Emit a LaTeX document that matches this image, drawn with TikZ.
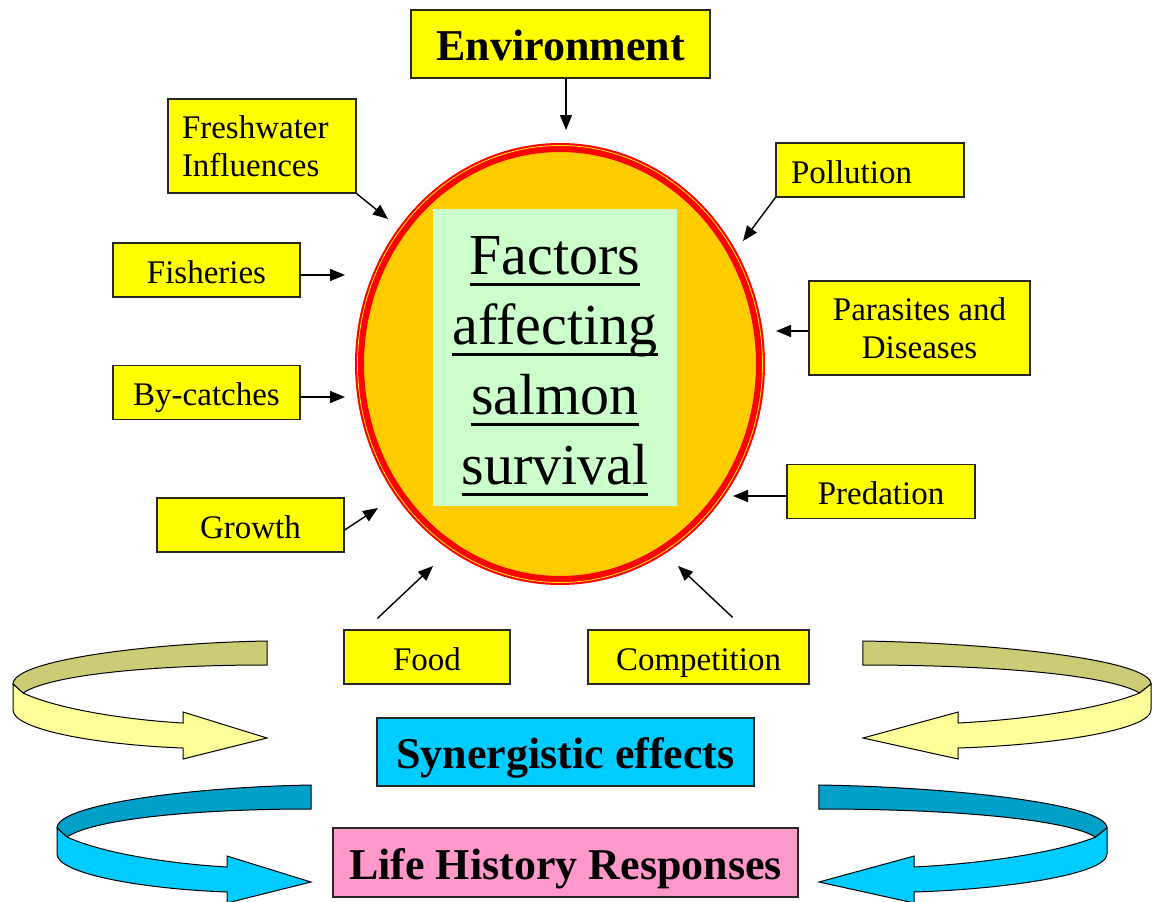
\documentclass[tikz,border=0pt]{standalone}
\usepackage{fontspec}
\setmainfont{Liberation Serif}
\usepackage{tikz}
\usetikzlibrary{arrows.meta,shapes.geometric}

\definecolor{boxyellow}{HTML}{FFFF00}
\definecolor{discfill}{HTML}{FFCC00}
\definecolor{titlegreen}{HTML}{CCFFCC}
\definecolor{synblue}{HTML}{00CCFF}
\definecolor{darkcyan}{HTML}{00A0C8}
\definecolor{lifepink}{HTML}{FF99CC}
\definecolor{khaki}{HTML}{CCCC77}
\definecolor{paleyellow}{HTML}{FFFF99}

% underline at a fixed depth
\newcommand{\ulword}[1]{\setbox0\hbox{#1}\rlap{\rule[-0.19em]{\wd0}{0.05em}}\box0}

% ribbon arrow, #1 back colour, #2 front colour
\newcommand{\swirl}[2]{%
\filldraw[fill=#1, line width=1pt] (254,0) -- (254,24) .. controls (137,24) and (37,34) .. (10,52) -- (0,43) .. controls (0,19) and (137,2) .. (254,0) -- cycle;
\filldraw[fill=#2, line width=1pt] (0,43) -- (10,52) .. controls (47,69) and (117,79) .. (170,82) -- (170,71) -- (254,97) -- (170,118) -- (170,107) .. controls (87,104) and (0,89) .. (0,69) -- cycle;
}

\tikzset{
  factor/.style={draw=black!85, fill=boxyellow, line width=1.2pt, inner sep=0pt, font=\fontsize{33}{38}\selectfont},
  oneline/.style={text height=28pt, text depth=2pt},
  banner/.style={draw=black!85, line width=1.2pt, inner sep=0pt, minimum height=68pt, text height=36pt, text depth=3pt, font=\bfseries\fontsize{44}{50}\selectfont},
  feed/.style={-{Triangle[length=15pt,width=12pt]}, line width=1.4pt},
}

\begin{document}
\begin{tikzpicture}[x=1pt, y=-1pt]
\useasboundingbox (0,0) rectangle (1152,902);

%\tikzstyle{every node} = [draw]
\begin{scope}[shift={(13,641)}] \swirl{khaki}{paleyellow} \end{scope}
\begin{scope}[shift={(1151,641)}, xscale=-1.134] \swirl{khaki}{paleyellow} \end{scope}
\begin{scope}[shift={(57,785)}] \swirl{darkcyan}{synblue} \end{scope}
\begin{scope}[shift={(1107,785)}, xscale=-1.134] \swirl{darkcyan}{synblue} \end{scope}

\node[ellipse, draw=red, line width=9pt, fill=discfill, minimum width=401pt, minimum height=433pt] (disc) at (560,364) {};
\draw[yellow, line width=0.8pt] (disc.center) ellipse [x radius=202.5, y radius=218.5];
\node[fill=titlegreen, minimum width=244pt, minimum height=297pt] (titlebox) at (555,357.5) {};
\node[font=\fontsize{58}{70}\selectfont, align=center] (title) at (555,366) {\ulword{Factors}\\\ulword{affecting}\\\ulword{salmon}\\\ulword{survival}};

\node[banner, fill=boxyellow, minimum width=299pt] (env) at (560.5,44) {Environment};
\node[banner, fill=synblue, minimum width=377pt] (syn) at (565.5,752) {Synergistic effects};
\node[banner, fill=lifepink, minimum width=465pt, minimum height=69pt] (life) at (565.5,862.5) {Life History Responses};

\node[factor, minimum width=188pt, minimum height=94pt, text width=160pt, align=left] (fresh) at (262,146) {Freshwater\\Influences};
\node[factor, oneline, minimum width=188pt, minimum height=54pt, text width=158pt, align=left] (poll) at (870,170) {Pollution};
\node[factor, oneline, minimum width=187pt, minimum height=54pt] (fish) at (206.5,270) {Fisheries};
\node[factor, minimum width=221pt, minimum height=94pt, align=center] (para) at (919.5,328) {Parasites and\\Diseases};
\node[factor, oneline, minimum width=187pt, minimum height=54pt] (byc) at (206.5,392.5) {By-catches};
\node[factor, oneline, minimum width=188pt, minimum height=54pt] (pred) at (881,491.5) {Predation};
\node[factor, oneline, minimum width=187pt, minimum height=54pt] (growth) at (250.5,525) {Growth};
\node[factor, oneline, minimum width=166pt, minimum height=54pt] (food) at (427,657) {Food};
\node[factor, oneline, minimum width=221pt, minimum height=54pt] (comp) at (698.5,657) {Competition};

\coordinate (envend) at (566,130);
\coordinate (freshend) at (388,219);
\coordinate (pollend) at (743,241);
\coordinate (fishend) at (345,275);
\coordinate (paraend) at (776,331);
\coordinate (bycend) at (345,397);
\coordinate (predend) at (733,496);
\coordinate (growend) at (378,508);
\coordinate (foodend) at (433,566);
\coordinate (compend) at (678,566);

\draw[feed] (env.south -| envend) -- (envend);
\draw[feed] (fresh.south east) -- (freshend);
\draw[feed] (poll.south west) -- (pollend);
\draw[feed] (fish.east |- fishend) -- (fishend);
\draw[feed] (para.west |- paraend) -- (paraend);
\draw[feed] (byc.east |- bycend) -- (bycend);
\draw[feed] (pred.west |- predend) -- (predend);
\draw[feed] ([yshift=-5pt]growth.east) -- (growend);
\draw[feed] ([shift={(34,-11)}]food.north west) -- (foodend);
\draw[feed] ([shift={(-77,-12)}]comp.north east) -- (compend);
\end{tikzpicture}
\end{document}
